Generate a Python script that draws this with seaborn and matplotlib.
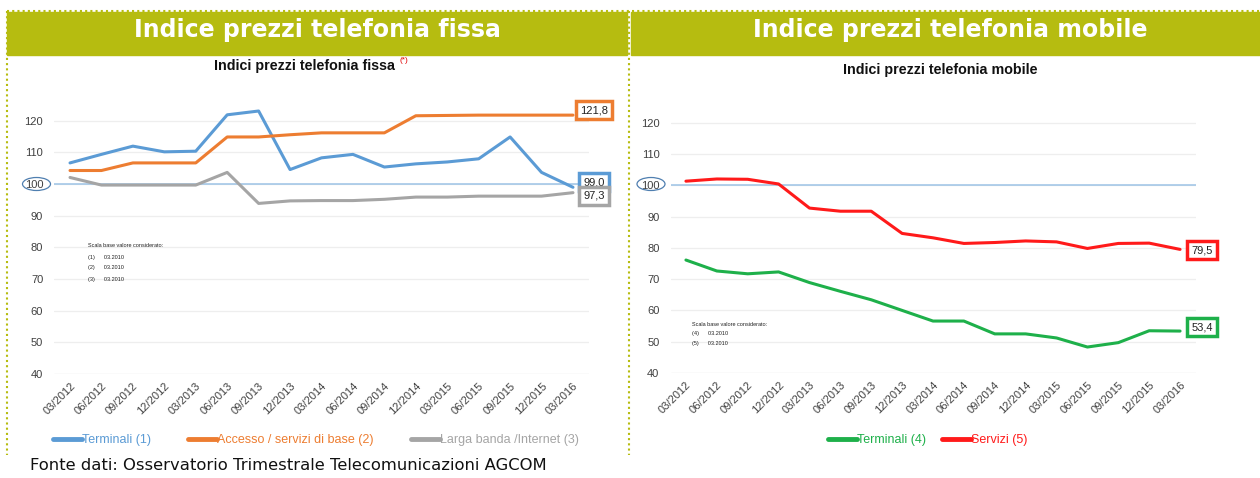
import numpy as np
import pandas as pd
import matplotlib.pyplot as plt
import seaborn as sns
from matplotlib.lines import Line2D
from matplotlib.patches import Rectangle, Ellipse

# quarters on the x axis
quarters = ["03/2012", "06/2012", "09/2012", "12/2012", "03/2013", "06/2013", "09/2013",
            "12/2013", "03/2014", "06/2014", "09/2014", "12/2014", "03/2015", "06/2015",
            "09/2015", "12/2015", "03/2016"]

# fixed line (left chart)
terminali_fissa = [106.7, 109.4, 112.0, 110.2, 110.4, 121.9, 123.1, 104.6, 108.3, 109.4,
                   105.4, 106.4, 107.0, 108.0, 114.9, 103.7, 99.0]
accesso_base = [104.3, 104.3, 106.7, 106.7, 106.7, 114.9, 114.9, 115.6, 116.2, 116.2,
                116.2, 121.6, 121.7, 121.8, 121.8, 121.8, 121.8]
larga_banda = [102.1, 99.7, 99.7, 99.7, 99.7, 103.7, 93.9, 94.7, 94.8, 94.8,
               95.2, 95.9, 95.9, 96.2, 96.2, 96.2, 97.3]

# mobile (right chart)
terminali_mobile = [76.1, 72.6, 71.7, 72.3, 68.9, 66.1, 63.4, 60.0, 56.6, 56.6,
                    52.5, 52.5, 51.2, 48.3, 49.7, 53.5, 53.4]
servizi_mobile = [101.3, 102.0, 101.9, 100.4, 92.7, 91.7, 91.7, 84.6, 83.2, 81.4,
                  81.7, 82.2, 81.9, 79.8, 81.4, 81.5, 79.5]

y_ticks = [40, 50, 60, 70, 80, 90, 100, 110, 120]

left_names = ["Terminali (1)", "Accesso / servizi di base (2)", "Larga banda /Internet (3)"]
left_colors = ["#5B9BD5", "#ED7D31", "#A5A5A5"]
right_names = ["Terminali (4)", "Servizi (5)"]
right_colors = ["#1EB04A", "#FF1A1A"]

OLIVE = "#B6BC10"

sns.set_style("white")
plt.rcParams["font.family"] = ["Liberation Sans", "DejaVu Sans"]

W, H = 1260, 478
fig = plt.figure(figsize=(12.6, 4.78), dpi=100)


def fx(px):
    return px / W


def fy(py):
    return 1 - py / H


def long_df(names, series):
    frames = []
    for n, s in zip(names, series):
        frames.append(pd.DataFrame({"pos": range(len(quarters)), "valore": s, "serie": n}))
    return pd.concat(frames, ignore_index=True)


def draw_chart(ax, names, colors, series, labels_off):
    df = long_df(names, series)
    sns.lineplot(data=df, x="pos", y="valore", hue="serie", hue_order=names,
                 palette=colors, linewidth=2.2, legend=False, ax=ax, sort=False)
    ax.set_xlim(-0.5, len(quarters) - 0.5)
    ax.set_ylim(40, 125)
    ax.set_yticks(y_ticks)
    ax.set_xticks(range(len(quarters)))
    ax.set_xticklabels(quarters, rotation=45, ha="right", rotation_mode="anchor")
    ax.tick_params(axis="both", length=0, labelsize=8, labelcolor="#404040")
    ax.tick_params(axis="y", pad=8)
    ax.tick_params(axis="x", pad=5)
    ax.set_xlabel("")
    ax.set_ylabel("")
    for t in y_ticks:
        ax.axhline(t, color="#D9D9D9" if t == 40 else "#EEEEEE", lw=0.9, zorder=0)
    ax.axhline(100, color="#9DC3E6", lw=1.1, zorder=1)
    for sp in ax.spines.values():
        sp.set_visible(False)
    # end-value boxes
    for s, c, off in zip(series, colors, labels_off):
        ax.annotate(f"{s[-1]:.1f}".replace(".", ","), xy=(len(quarters) - 1, s[-1]),
                    xytext=off, textcoords="offset pixels", ha="center", va="center",
                    fontsize=8, color="#222222", zorder=5,
                    bbox=dict(boxstyle="square,pad=0.35", fc="white", ec=c, lw=2.5))


axL = fig.add_axes([fx(54.3), fy(374), fx(534.4), (374 - 105) / H])
draw_chart(axL, left_names, left_colors, [terminali_fissa, accesso_base, larga_banda],
           [(21, 5), (21, 5), (21, -3)])

axR = fig.add_axes([fx(670.5), fy(373), fx(525), (373 - 107) / H])
draw_chart(axR, right_names, right_colors, [terminali_mobile, servizi_mobile],
           [(22, 4), (22, -1)])

# header bands and dotted frame
fig.patches.append(Rectangle((fx(7), fy(55)), fx(620), 43 / H, transform=fig.transFigure,
                             color=OLIVE, zorder=0))
fig.patches.append(Rectangle((fx(631), fy(55)), fx(629), 43 / H, transform=fig.transFigure,
                             color=OLIVE, zorder=0))
for xs, ys in [([7, 1260], [11, 11]), ([7, 7], [11, 455]), ([629, 629], [11, 455])]:
    fig.add_artist(Line2D([fx(v) for v in xs], [fy(v) for v in ys], color=OLIVE,
                          lw=1.5, ls=(0, (1, 1.5)), transform=fig.transFigure))

fig.text(fx(317), fy(30), "Indice prezzi telefonia fissa", ha="center", va="center",
         color="white", fontsize=17, fontweight="bold", family="DejaVu Sans")
fig.text(fx(950), fy(30), "Indice prezzi telefonia mobile", ha="center", va="center",
         color="white", fontsize=17, fontweight="bold", family="DejaVu Sans")

# chart titles
fig.text(fx(305), fy(66), "Indici prezzi telefonia fissa", ha="center", va="center",
         fontsize=10.3, fontweight="bold", color="#111111")
fig.text(fx(400), fy(61), "(*)", ha="left", va="center", fontsize=6, color="#E00000")
fig.text(fx(940), fy(70), "Indici prezzi telefonia mobile", ha="center", va="center",
         fontsize=10.3, fontweight="bold", color="#111111")

# circles around the 100 labels
fig.add_artist(Ellipse((fx(36.5), fy(184)), fx(28), 13 / H, transform=fig.transFigure,
                       fill=False, ec="#4F7FB0", lw=0.9))
fig.add_artist(Ellipse((fx(651), fy(184)), fx(28), 13 / H, transform=fig.transFigure,
                       fill=False, ec="#4F7FB0", lw=0.9))

# base-period notes
note_left = ["Scala base valore considerato:", "(1)      03.2010", "(2)      03.2010", "(3)      03.2010"]
note_right = ["Scala base valore considerato:", "(4)      03.2010", "(5)      03.2010"]
for i, t in enumerate(note_left):
    fig.text(fx(88), fy(246 + i * 11), t, fontsize=4, color="#222222", va="center")
for i, t in enumerate(note_right):
    fig.text(fx(692), fy(325 + i * 9), t, fontsize=4, color="#222222", va="center")

# legends
hl = [Line2D([], [], color=c, lw=3.5) for c in left_colors]
fig.legend(hl, left_names, loc="center", bbox_to_anchor=(fx(316), fy(440)), ncol=3,
           frameon=False, fontsize=9, labelcolor="linecolor", handlelength=2.3,
           handletextpad=0.0, columnspacing=3.0)
hr = [Line2D([], [], color=c, lw=3.5) for c in right_colors]
fig.legend(hr, right_names, loc="center", bbox_to_anchor=(fx(928), fy(440)), ncol=2,
           frameon=False, fontsize=9, labelcolor="linecolor", handlelength=2.3,
           handletextpad=0.0, columnspacing=1.3)

fig.text(fx(30), fy(466), "Fonte dati: Osservatorio Trimestrale Telecomunicazioni AGCOM",
         ha="left", va="center", fontsize=11.8, family="DejaVu Sans", color="#111111")

fig.savefig("out.png", dpi=100, facecolor="white")
